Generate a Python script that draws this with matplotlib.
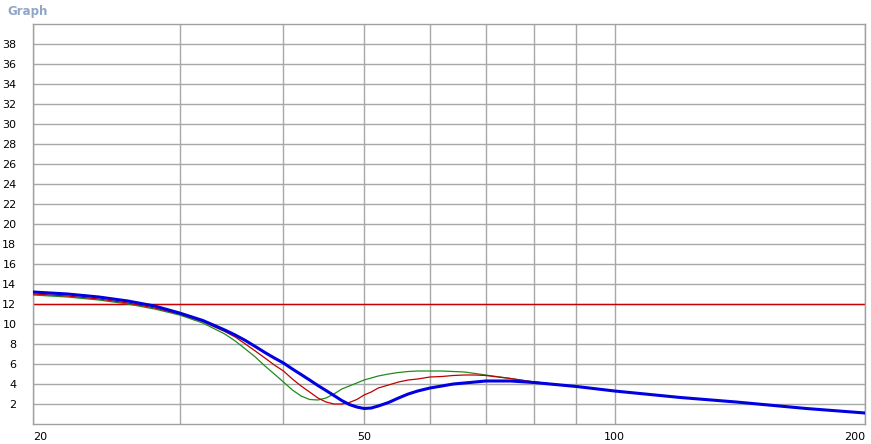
import matplotlib.pyplot as plt
from matplotlib.ticker import FixedLocator, NullFormatter

# frequency points (Hz) shared by all curves
freq = [20, 22, 24, 26, 28, 30, 32, 34, 35, 36, 37, 38, 39, 40, 41, 42, 43,
        44, 45, 46, 47, 48, 49, 50, 51, 52, 53.5, 55, 56.5, 58, 60, 62, 64,
        66, 68, 70, 75, 80, 90, 100, 120, 140, 170, 200]

blue = [13.2, 13.0, 12.7, 12.3, 11.8, 11.1, 10.35, 9.4, 8.9, 8.35, 7.75,
        7.15, 6.6, 6.1, 5.5, 4.95, 4.4, 3.85, 3.35, 2.85, 2.35, 1.95, 1.7,
        1.55, 1.6, 1.8, 2.15, 2.6, 3.0, 3.3, 3.6, 3.8, 4.0, 4.1, 4.2, 4.3,
        4.3, 4.15, 3.75, 3.3, 2.65, 2.2, 1.55, 1.1]
red = [13.0, 12.8, 12.5, 12.1, 11.6, 11.0, 10.25, 9.25, 8.7, 8.0, 7.3, 6.6,
       5.9, 5.3, 4.5, 3.8, 3.2, 2.6, 2.2, 2.0, 2.0, 2.15, 2.45, 2.9, 3.2,
       3.6, 3.9, 4.2, 4.4, 4.5, 4.7, 4.75, 4.85, 4.9, 4.9, 4.85, 4.55, 4.2,
       3.75, 3.3, 2.65, 2.2, 1.55, 1.1]
green = [12.9, 12.7, 12.4, 12.0, 11.5, 10.9, 10.1, 9.0, 8.3, 7.5, 6.7, 5.8,
         5.0, 4.2, 3.4, 2.8, 2.45, 2.4, 2.6, 3.0, 3.5, 3.8, 4.1, 4.4, 4.6,
         4.8, 5.0, 5.15, 5.25, 5.3, 5.3, 5.3, 5.25, 5.2, 5.05, 4.9, 4.55,
         4.2, 3.75, 3.3, 2.65, 2.2, 1.55, 1.1]
ref_level = 12

yticks = list(range(2, 40, 2))
xlabels = [20, 50, 100, 200]
xgrid = [30, 40, 60, 70, 80, 90]

fig = plt.figure(figsize=(8.71, 4.44), dpi=100)
ax = fig.add_axes([33 / 871, 1 - 424 / 444, 832 / 871, 400 / 444])

ax.axhline(ref_level, color='#c80000', lw=1.0, zorder=2)
ax.plot(freq, green, color='#1e8c1e', lw=0.9, zorder=3)
ax.plot(freq, red, color='#c00000', lw=0.9, zorder=4)
ax.plot(freq, blue, color='#0000e0', lw=2.2, zorder=5)

ax.set_xscale('log')
ax.set_xlim(20, 200)
ax.set_ylim(0, 40)

ax.xaxis.set_major_locator(FixedLocator(xlabels))
ax.set_xticklabels([str(v) for v in xlabels])
ax.xaxis.set_minor_locator(FixedLocator(xgrid))
ax.xaxis.set_minor_formatter(NullFormatter())
ax.set_yticks(yticks)

ax.tick_params(which='both', length=0, labelsize=8, colors='#000000')
ax.tick_params(axis='x', pad=6)
ax.tick_params(axis='y', pad=12)
labs = ax.get_xticklabels()
labs[0].set_ha('left')
labs[-1].set_ha('right')

ax.grid(True, which='both', axis='x', color='#a8a8a8', lw=1.0)
ax.grid(True, which='major', axis='y', color='#a8a8a8', lw=1.0)
ax.set_axisbelow(True)
for s in ax.spines.values():
    s.set_color('#a0a0a0')
    s.set_linewidth(1.0)

fig.text(7 / 871, 1 - 11 / 444, 'Graph', color='#8fa6c4', fontsize=8.5,
         fontweight='bold', va='center', ha='left')

fig.savefig('out.png', dpi=100)
